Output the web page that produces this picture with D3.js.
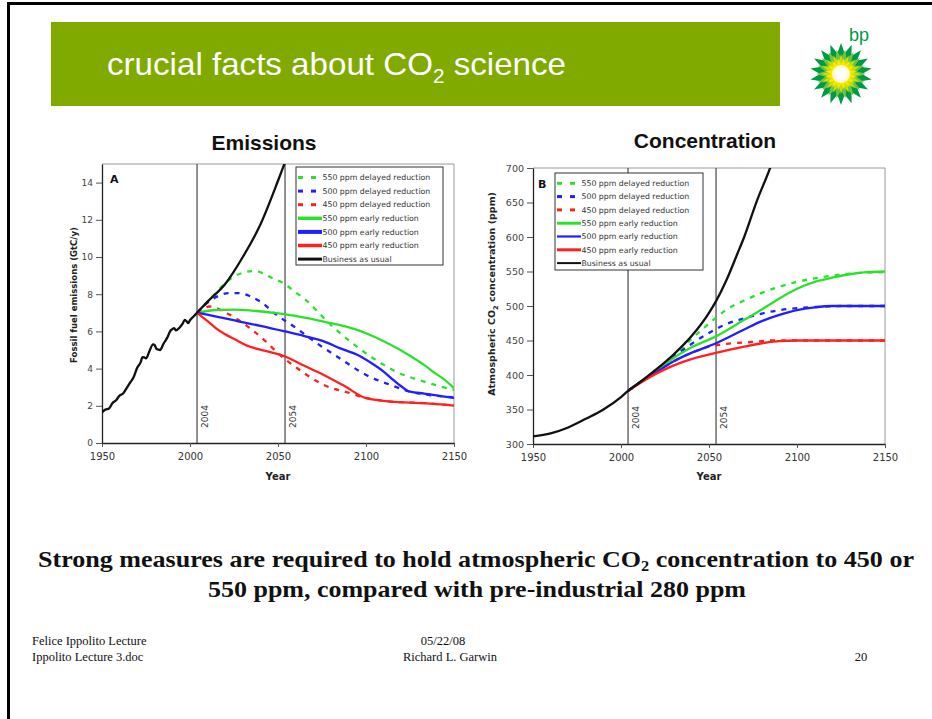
<!DOCTYPE html>
<html><head><meta charset="utf-8">
<script src="https://cdn.jsdelivr.net/npm/d3@7"></script>
<style>body{margin:0;background:#fff}svg{display:block}</style>
</head><body>
<svg id="s" width="932" height="719"></svg>
<script>
// ---------- DATA ----------
const xTicks = [1950, 2000, 2050, 2100, 2150];
const emisTicks = [0, 2, 4, 6, 8, 10, 12, 14];
const concTicks = [300, 350, 400, 450, 500, 550, 600, 650, 700];
const markerYears = [2004, 2054];
const seriesNames = ["550 ppm delayed reduction", "500 ppm delayed reduction", "450 ppm delayed reduction",
  "550 ppm early reduction", "500 ppm early reduction", "450 ppm early reduction", "Business as usual"];
const seriesColors = ["#2ee02e", "#1f1fff", "#ff2020", "#2ee02e", "#1f1fff", "#ff2020", "#111111"];
const seriesDashed = [true, true, true, false, false, false, false];

// Emissions (GtC/y), [year, value]
const emisHistory = [[1950,1.65],[1952,1.8],[1954,1.86],[1956,2.15],[1958,2.3],[1960,2.55],[1962,2.66],[1964,2.95],[1966,3.25],[1968,3.55],[1970,4.05],[1972,4.35],[1973,4.62],[1974,4.6],[1975,4.55],[1977,4.95],[1979,5.3],[1980,5.25],[1981,5.05],[1983,5.0],[1985,5.35],[1987,5.65],[1989,6.05],[1990,6.12],[1991,6.18],[1992,6.05],[1994,6.2],[1996,6.45],[1997,6.62],[1998,6.55],[1999,6.45],[2000,6.6],[2002,6.8],[2004,7.0]];
const emisBAU = [[2004,7.0],[2010,7.6],[2020,8.55],[2030,10.0],[2040,11.75],[2050,14.1],[2054,15.1],[2060,16.6]];
const emis550Delayed = [[2004,7.0],[2010,7.6],[2015,8.1],[2020,8.6],[2025,8.95],[2030,9.15],[2037,9.25],[2042,9.1],[2047,8.85],[2053,8.6],[2060,8.1],[2065,7.75],[2080,6.35],[2091,5.46],[2104,4.56],[2117,3.84],[2133,3.3],[2150,2.85]];
const emis500Delayed = [[2004,7.0],[2010,7.55],[2016,7.9],[2022,8.06],[2028,8.06],[2034,7.9],[2040,7.6],[2049,6.9],[2060,6.2],[2072,5.37],[2085,4.56],[2100,3.66],[2114,3.12],[2125,2.76],[2136,2.58],[2150,2.45]];
const emis450Delayed = [[2004,7.0],[2008,7.25],[2011,7.34],[2015,7.25],[2019,7.07],[2026,6.71],[2034,6.18],[2042,5.55],[2051,4.74],[2061,4.02],[2076,3.12],[2091,2.68],[2100,2.42],[2113,2.24],[2133,2.14],[2150,2.02]];
const emis550Early = [[2004,7.0],[2015,7.15],[2025,7.17],[2035,7.12],[2049,6.98],[2062,6.8],[2076,6.53],[2095,6.08],[2105,5.7],[2114,5.28],[2124,4.75],[2133,4.2],[2140,3.7],[2144,3.45],[2150,2.95]];
const emis500Early = [[2004,7.0],[2015,6.8],[2028,6.53],[2040,6.3],[2054,6.0],[2065,5.75],[2076,5.46],[2085,5.1],[2095,4.74],[2103,4.3],[2110,3.84],[2116,3.35],[2120,3.05],[2125,2.76],[2133,2.66],[2150,2.42]];
const emis450Early = [[2004,7.0],[2010,6.55],[2015,6.15],[2020,5.85],[2026,5.55],[2032,5.25],[2043,4.95],[2054,4.65],[2065,4.15],[2076,3.66],[2088,3.05],[2100,2.41],[2114,2.23],[2133,2.14],[2150,2.01]];

// Concentration (ppm), [year, value]
const concHistory = [[1950,311],[1960,315.5],[1970,324],[1980,336.5],[1990,350],[2000,368],[2004,377]];
const concBAU = [[2004,377],[2010,388],[2020,408],[2030,430],[2040,456],[2050,490],[2054,507],[2060,538],[2066,575],[2070,600],[2077,651],[2085,702],[2090,740]];
const conc550Delayed = [[2004,377],[2010,388],[2020,407],[2030,427],[2040,452],[2047,468],[2054,483],[2060,495],[2070,508],[2080,519],[2090,528],[2100,535],[2115,542],[2130,547],[2150,549]];
const conc500Delayed = [[2004,377],[2010,388],[2020,406],[2030,426],[2040,445],[2050,461],[2060,474],[2070,482],[2080,489],[2090,494],[2100,497],[2115,499],[2125,500],[2150,500]];
const conc450Delayed = [[2004,377],[2010,388],[2020,404],[2030,420],[2040,432],[2050,441],[2060,445],[2075,448],[2085,450],[2150,450]];
const conc550Early = [[2004,377],[2010,388],[2020,405],[2030,425],[2040,440],[2054,456],[2070,480],[2080,495],[2090,511],[2100,525],[2110,535],[2120,541],[2130,546],[2140,549],[2150,550]];
const conc500Early = [[2004,377],[2010,388],[2020,404],[2030,420],[2040,432],[2054,446],[2070,466],[2080,478],[2090,487],[2100,494],[2110,498],[2120,500],[2150,500]];
const conc450Early = [[2004,377],[2010,387],[2020,402],[2030,414],[2040,423],[2054,432],[2070,441],[2080,446],[2090,449],[2100,450],[2150,450]];

// ---------- DRAW ----------
const svg = d3.select("#s");
const chartFont = "'DejaVu Sans', Verdana, sans-serif";

// slide border (top and left)
svg.append("rect").attr("x", 7).attr("y", 2).attr("width", 925).attr("height", 3).attr("fill", "#000");
svg.append("rect").attr("x", 7).attr("y", 2).attr("width", 3).attr("height", 717).attr("fill", "#000");

// title bar
svg.append("rect").attr("x", 51).attr("y", 22).attr("width", 729).attr("height", 84).attr("fill", "#80aa00");
const tt = svg.append("text").attr("x", 107).attr("y", 75).attr("fill", "#fff")
  .attr("font-family", "'Liberation Sans', Arial, sans-serif").attr("font-size", 32)
  .attr("textLength", 459).attr("lengthAdjust", "spacingAndGlyphs");
tt.append("tspan").text("crucial facts about CO");
tt.append("tspan").attr("font-size", 20).attr("dy", 8).text("2");
tt.append("tspan").attr("dy", -8).text(" science");

// bp logo
const logo = svg.append("g").attr("transform", "translate(841,74)");
function star(n, rOut, rIn, rot) {
  const pts = [];
  for (let i = 0; i < n * 2; i++) {
    const r = i % 2 === 0 ? rOut : rIn;
    const a = rot + i * Math.PI / n - Math.PI / 2;
    pts.push([r * Math.cos(a), r * Math.sin(a)]);
  }
  return "M" + pts.map(p => p.join(",")).join("L") + "Z";
}
logo.append("path").attr("d", star(18, 31, 21, 0)).attr("fill", "#009a44");
logo.append("path").attr("d", star(18, 25, 16, Math.PI / 18)).attr("fill", "#6cc24a");
logo.append("path").attr("d", star(16, 20, 12, 0)).attr("fill", "#c8e000");
logo.append("path").attr("d", star(16, 16, 10, Math.PI / 16)).attr("fill", "#ffe600");
logo.append("circle").attr("r", 9).attr("fill", "#fffbd0");
logo.append("circle").attr("r", 6).attr("fill", "#fff");
svg.append("text").attr("x", 849).attr("y", 41).attr("fill", "#009a44")
  .attr("font-family", "'Liberation Sans', Arial, sans-serif").attr("font-size", 18).text("bp");

// generic chart
function drawChart(cfg) {
  const g = svg.append("g");
  const x = d3.scaleLinear().domain([1950, 2150]).range(cfg.xr);
  const y = d3.scaleLinear().domain(cfg.yd).range(cfg.yr);
  const clipId = "clip" + cfg.id;
  svg.append("clipPath").attr("id", clipId).append("rect")
    .attr("x", cfg.xr[0]).attr("y", cfg.yr[1]).attr("width", cfg.xr[1] - cfg.xr[0]).attr("height", cfg.yr[0] - cfg.yr[1]);

  // frame (top & right)
  g.append("path").attr("d", `M${cfg.xr[0]},${cfg.yr[1]}H${cfg.xr[1]}V${cfg.yr[0]}`)
    .attr("fill", "none").attr("stroke", "#9a9a9a").attr("stroke-width", 1);

  // markers
  markerYears.forEach(yr => {
    g.append("line").attr("x1", x(yr)).attr("x2", x(yr)).attr("y1", cfg.yr[1]).attr("y2", cfg.yr[0])
      .attr("stroke", "#555").attr("stroke-width", 1.3);
    g.append("text").attr("transform", `translate(${x(yr) + 11},${cfg.yr[0] - 15}) rotate(-90)`)
      .attr("font-family", chartFont).attr("font-size", cfg.markerFs).attr("fill", "#333").text(yr);
  });

  // axes
  const ax = g.append("g").attr("transform", `translate(0,${cfg.yr[0]})`)
    .call(d3.axisBottom(x).tickValues(xTicks).tickFormat(d3.format("d")).tickSize(4).tickSizeOuter(0));
  ax.attr("font-size", null);
  ax.selectAll("text").style("font-family", chartFont).style("font-size", cfg.xFs + "px").attr("fill", "#333").attr("dy", "0.95em");
  const ay = g.append("g").attr("transform", `translate(${cfg.xr[0]},0)`)
    .call(d3.axisLeft(y).tickValues(cfg.yTicks).tickSize(6).tickSizeOuter(0));
  ay.attr("font-size", null);
  ay.selectAll("text").style("font-family", chartFont).style("font-size", cfg.yFs + "px").attr("fill", "#444");
  [ax, ay].forEach(a => { a.select(".domain").attr("stroke", "#222").attr("stroke-width", 1.3); a.selectAll(".tick line").attr("stroke", "#555"); });

  // axis titles
  g.append("text").attr("x", (cfg.xr[0] + cfg.xr[1]) / 2).attr("y", 480).attr("text-anchor", "middle")
    .attr("font-family", chartFont).attr("font-weight", "bold").attr("font-size", 10).attr("fill", "#222").text("Year");
  const yt = g.append("text").attr("transform", `translate(${cfg.yTitleX},${cfg.yTitleY}) rotate(-90)`).attr("text-anchor", "middle")
    .attr("font-family", chartFont).attr("font-weight", "bold").attr("font-size", cfg.yTitleFs).attr("fill", "#222");
  cfg.yTitle(yt);

  // chart title
  g.append("text").attr("x", cfg.titleX).attr("y", cfg.titleY).attr("text-anchor", "middle")
    .attr("font-family", "'Liberation Sans', Arial, sans-serif").attr("font-weight", "bold").attr("font-size", 21).attr("fill", "#111").text(cfg.title);

  // curves
  const line = d3.line().x(d => x(d[0])).y(d => y(d[1])).curve(d3.curveMonotoneX);
  const cg = g.append("g").attr("clip-path", `url(#${clipId})`);
  cfg.series.forEach((s, i) => {
    cg.append("path").attr("d", line(s)).attr("fill", "none").attr("stroke", seriesColors[i])
      .attr("stroke-width", 2.3).attr("stroke-dasharray", seriesDashed[i] ? "5,6" : null);
  });

  // panel letter
  g.append("text").attr("x", cfg.letterX).attr("y", cfg.letterY).attr("font-family", chartFont)
    .attr("font-weight", "bold").attr("font-size", 11).attr("fill", "#111").text(cfg.letter);

  // legend
  const L = cfg.legend;
  g.append("rect").attr("x", L.x).attr("y", L.y).attr("width", L.w).attr("height", L.h)
    .attr("fill", "#fff").attr("stroke", "#333").attr("stroke-width", 1);
  seriesNames.forEach((name, i) => {
    const ry = L.y + L.first + i * L.step;
    if (seriesDashed[i]) {
      [0, 13].forEach(o => g.append("line").attr("x1", L.x + 2 + o).attr("x2", L.x + 7 + o).attr("y1", ry).attr("y2", ry)
        .attr("stroke", seriesColors[i]).attr("stroke-width", 3));
    } else {
      g.append("line").attr("x1", L.x + 2).attr("x2", L.x + 26).attr("y1", ry).attr("y2", ry)
        .attr("stroke", seriesColors[i]).attr("stroke-width", L.sw[i]);
    }
    g.append("text").attr("x", L.x + 26.5).attr("y", ry).attr("dy", "0.35em").attr("font-family", chartFont)
      .attr("font-size", 7.8).attr("fill", "#333").text(name);
  });
}

drawChart({
  id: "A", xr: [102, 454], yd: [0, 15], yr: [443, 164], yTicks: emisTicks,
  xFs: 10, yFs: 9, markerFs: 9,
  yTitleX: 77, yTitleY: 295, yTitleFs: 8.5,
  yTitle: t => t.text("Fossil fuel emissions (GtC/y)"),
  title: "Emissions", titleX: 264, titleY: 150,
  letter: "A", letterX: 110, letterY: 183,
  series: [emis550Delayed, emis500Delayed, emis450Delayed, emis550Early, emis500Early, emis450Early, emisHistory.concat(emisBAU.slice(1))],
  legend: { x: 296, y: 167, w: 147, h: 98, first: 10.5, step: 13.6, sw: [0, 0, 0, 3.5, 4, 3.5, 3] }
});

drawChart({
  id: "B", xr: [533, 885], yd: [300, 700], yr: [444, 168], yTicks: concTicks,
  xFs: 10, yFs: 9.5, markerFs: 9,
  yTitleX: 495, yTitleY: 294, yTitleFs: 9.5,
  yTitle: t => { t.append("tspan").text("Atmospheric CO"); t.append("tspan").attr("font-size", 6.5).attr("dy", 2.5).text("2"); t.append("tspan").attr("dy", -2.5).text(" concentration (ppm)"); },
  title: "Concentration", titleX: 705, titleY: 148,
  letter: "B", letterX: 538, letterY: 188,
  series: [conc550Delayed, conc500Delayed, conc450Delayed, conc550Early, conc500Early, conc450Early, concHistory.concat(concBAU.slice(1))],
  legend: { x: 555, y: 173, w: 148, h: 97, first: 10.3, step: 13.3, sw: [0, 0, 0, 3, 2.2, 3, 2] }
});

// statement
const serif = "'Liberation Serif', 'Times New Roman', serif";
const st = svg.append("text").attr("x", 38).attr("y", 567)
  .attr("font-family", serif).attr("font-weight", "bold").attr("font-size", 24).attr("fill", "#111")
  .attr("textLength", 876).attr("lengthAdjust", "spacingAndGlyphs");
st.append("tspan").text("Strong measures are required to hold atmospheric CO");
st.append("tspan").attr("font-size", 15).attr("dy", 4).text("2");
st.append("tspan").attr("dy", -4).text(" concentration to 450 or");
svg.append("text").attr("x", 208).attr("y", 597)
  .attr("font-family", serif).attr("font-weight", "bold").attr("font-size", 24).attr("fill", "#111")
  .attr("textLength", 538).attr("lengthAdjust", "spacingAndGlyphs")
  .text("550 ppm, compared with pre-industrial 280 ppm");

// footer
const foot = [
  { t: "Felice Ippolito Lecture", x: 32, y: 645, a: "start" },
  { t: "Ippolito Lecture 3.doc", x: 32, y: 661, a: "start" },
  { t: "05/22/08", x: 443, y: 645, a: "middle" },
  { t: "Richard L. Garwin", x: 450, y: 661, a: "middle" },
  { t: "20", x: 861, y: 661, a: "middle" }
];
svg.selectAll(".foot").data(foot).join("text").attr("x", d => d.x).attr("y", d => d.y).attr("text-anchor", d => d.a)
  .attr("font-family", serif).attr("font-size", 12.5).attr("fill", "#111").text(d => d.t);
</script>
</body></html>
